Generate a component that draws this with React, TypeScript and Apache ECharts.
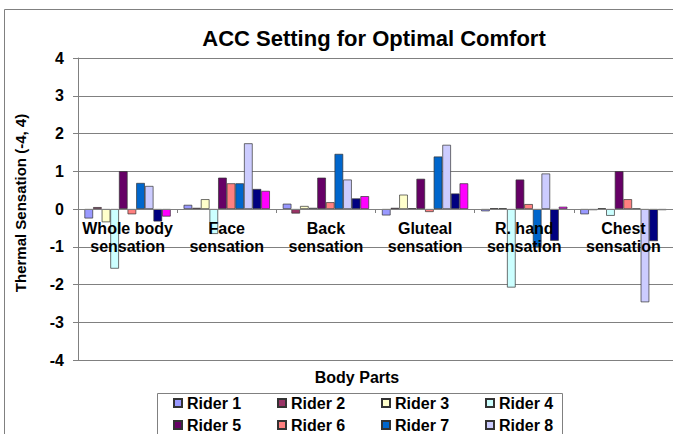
import React, { useEffect, useRef } from "react";
import * as echarts from "echarts";

const categories = [
  "Whole body\nsensation",
  "Face\nsensation",
  "Back\nsensation",
  "Gluteal\nsensation",
  "R. hand\nsensation",
  "Chest\nsensation",
];

const riderNames = [
  "Rider 1", "Rider 2", "Rider 3", "Rider 4", "Rider 5",
  "Rider 6", "Rider 7", "Rider 8", "Rider 9", "Rider 10",
];

const rider1 = [-0.25, 0.11, 0.14, -0.17, -0.06, -0.14];
const rider2 = [0.05, 0.03, -0.12, 0.03, 0.02, -0.03];
const rider3 = [-0.35, 0.26, 0.08, 0.38, 0.02, 0.02];
const rider4 = [-1.58, -0.66, 0.03, 0.02, -2.08, -0.18];
const rider5 = [1.0, 0.83, 0.83, 0.8, 0.78, 1.0];
const rider6 = [-0.14, 0.68, 0.18, -0.08, 0.13, 0.26];
const rider7 = [0.69, 0.68, 1.46, 1.39, -1.01, 0.01];
const rider8 = [0.61, 1.74, 0.78, 1.7, 0.94, -2.47];
const rider9 = [-0.33, 0.53, 0.28, 0.41, -0.84, -0.85];
const rider10 = [-0.2, 0.48, 0.34, 0.68, 0.06, -0.03];

const riderValues = [rider1, rider2, rider3, rider4, rider5, rider6, rider7, rider8, rider9, rider10];

const riderColors = [
  "#9999FF", "#993366", "#FFFFCC", "#CCFFFF", "#660066",
  "#FF8080", "#0066CC", "#CCCCFF", "#000080", "#FF00FF",
];

const yTicks = [-4, -3, -2, -1, 0, 1, 2, 3, 4];

const FONT = "'Liberation Sans', Arial, sans-serif";

export default function App() {
  const ref = useRef<HTMLDivElement>(null);

  useEffect(() => {
    if (!ref.current) return;
    const chart = echarts.init(ref.current, undefined, { renderer: "svg" });

    const series = riderNames.map((name, i) => ({
      name,
      type: "bar" as const,
      data: riderValues[i],
      barGap: "0%",
      barCategoryGap: "13%",
      itemStyle: { color: riderColors[i], borderColor: "#333", borderWidth: 0.7 },
    }));

    const legendRow = (names: string[], top: number) => ({
      data: names,
      left: 173,
      top,
      orient: "horizontal",
      padding: 0,
      itemGap: 30,
      itemWidth: 8,
      itemHeight: 8,
      icon: "rect",
      selectedMode: false,
      textStyle: {
        fontFamily: FONT,
        fontSize: 16,
        fontWeight: "bold",
        color: "#000",
        width: 60,
        lineHeight: 16,
      },
    });

    const gridTop = 58;
    const gridBottom = 74;
    const plotH = 434 - gridTop - gridBottom;

    chart.setOption({
      animation: false,
      backgroundColor: "#fff",
      textStyle: { fontFamily: FONT },
      grid: { left: 78, right: -3, top: gridTop, bottom: gridBottom, containLabel: false },
      legend: [
        legendRow(riderNames.slice(0, 4), 395),
        legendRow(riderNames.slice(4, 8), 417),
        legendRow(riderNames.slice(8, 10), 439),
      ],
      xAxis: {
        type: "category",
        data: categories,
        z: 10,
        offset: -plotH / 2,
        axisLine: { onZero: false, lineStyle: { color: "#808080", width: 1 } },
        axisTick: { show: true, length: 4, lineStyle: { color: "#808080" } },
        axisLabel: {
          interval: 0,
          margin: 10,
          fontFamily: FONT,
          fontSize: 16,
          fontWeight: "bold",
          color: "#000",
          lineHeight: 18,
        },
        splitLine: { show: false },
      },
      yAxis: {
        type: "value",
        min: -4,
        max: 4,
        interval: 1,
        axisLine: { show: true, lineStyle: { color: "#808080", width: 1 } },
        axisTick: { show: true, length: 5, lineStyle: { color: "#808080" } },
        axisLabel: {
          margin: 14,
          fontFamily: FONT,
          fontSize: 16,
          fontWeight: "bold",
          color: "#000",
          formatter: (v: number) => (yTicks.includes(v) ? String(v) : ""),
        },
        splitLine: { show: true, lineStyle: { color: "#808080", width: 1 } },
      },
      series,
      graphic: [
        {
          type: "rect",
          silent: true,
          z: -10,
          shape: { x: 4.5, y: 9.5, width: 720, height: 520 },
          style: { fill: "none", stroke: "#808080", lineWidth: 1 },
        },
        {
          type: "text",
          style: {
            x: 374,
            y: 38,
            text: "ACC Setting for Optimal Comfort",
            fontFamily: FONT,
            fontSize: 22,
            fontWeight: "bold",
            fill: "#000",
            textAlign: "center",
            textVerticalAlign: "middle",
          },
        },
        {
          type: "text",
          x: 20,
          y: 203,
          rotation: Math.PI / 2,
          style: {
            x: 0,
            y: 0,
            text: "Thermal Sensation (-4, 4)",
            fontFamily: FONT,
            fontSize: 15,
            fontWeight: "bold",
            fill: "#000",
            textAlign: "center",
            textVerticalAlign: "middle",
          },
        },
        {
          type: "text",
          style: {
            x: 357,
            y: 377,
            text: "Body Parts",
            fontFamily: FONT,
            fontSize: 16,
            fontWeight: "bold",
            fill: "#000",
            textAlign: "center",
            textVerticalAlign: "middle",
          },
        },
        {
          type: "rect",
          silent: true,
          z: -5,
          shape: { x: 157.5, y: 393.5, width: 405, height: 80 },
          style: { fill: "#fff", stroke: "#808080", lineWidth: 1 },
        },
      ],
    });

    return () => chart.dispose();
  }, []);

  return (
    <div
      ref={ref}
      style={{ position: "absolute", left: 0, top: 0, width: 673, height: 434 }}
    />
  );
}
